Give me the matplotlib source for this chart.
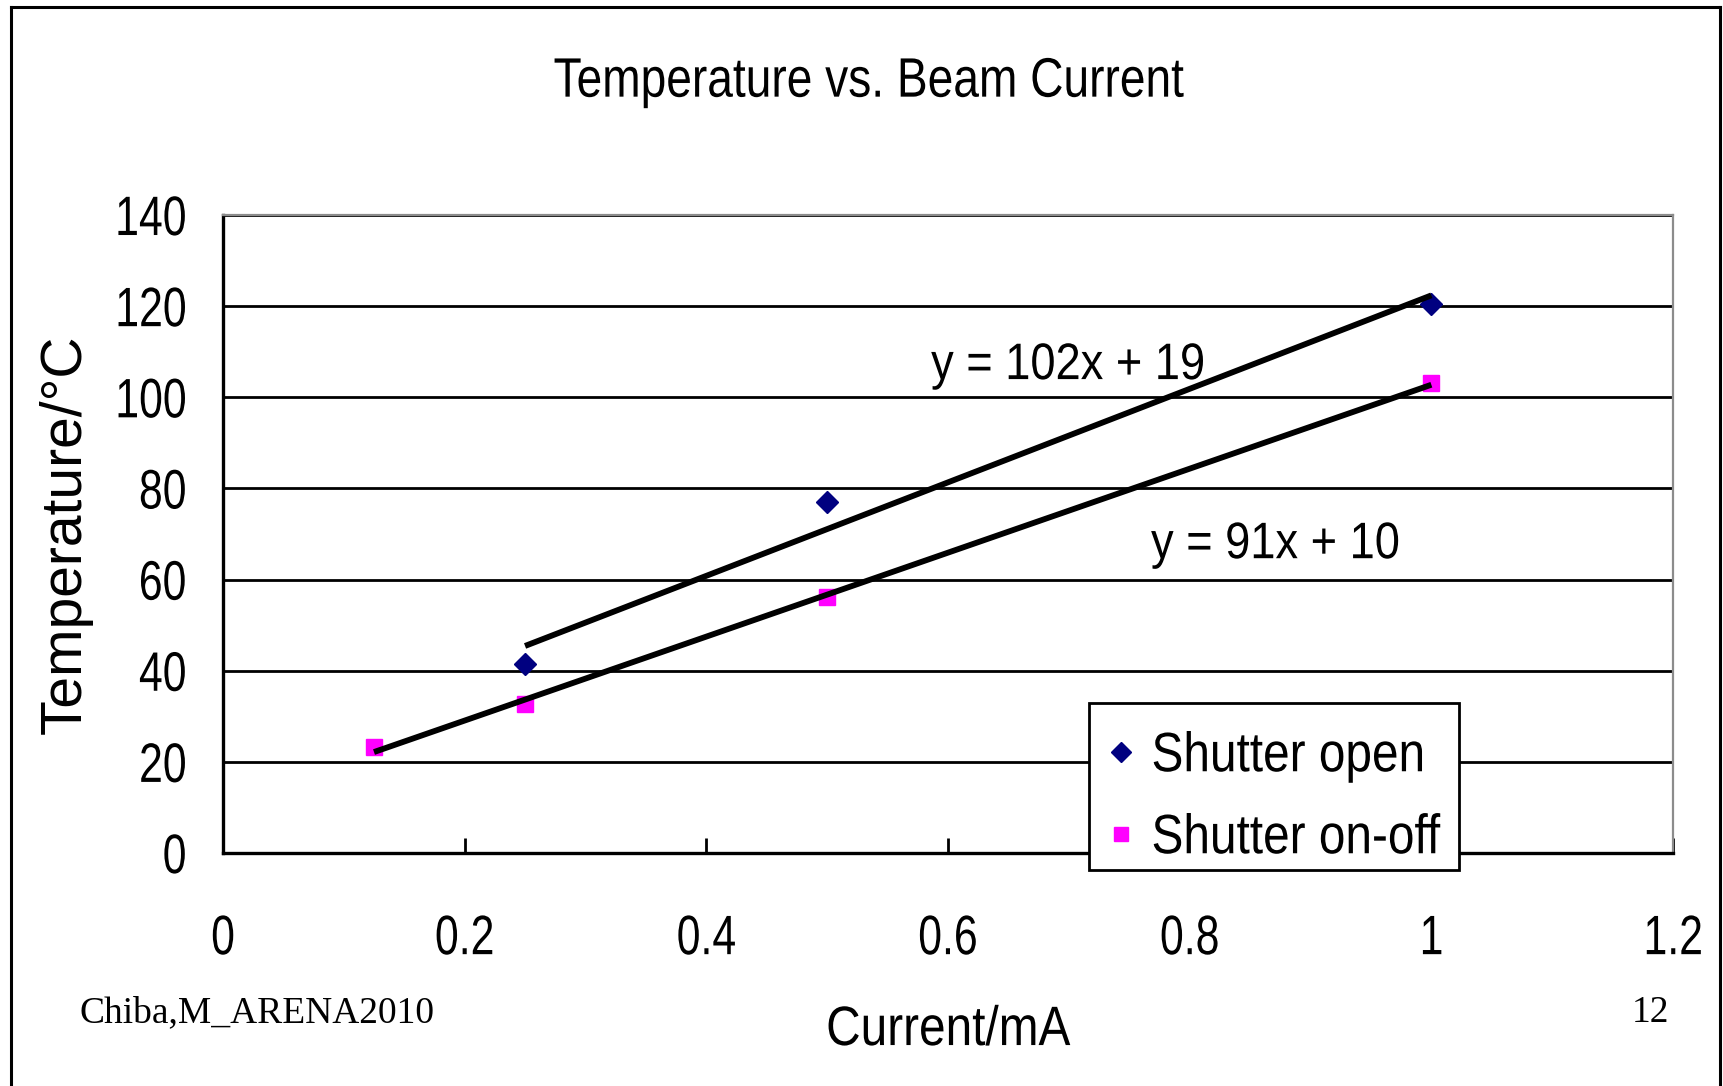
import numpy as np
import matplotlib
matplotlib.use("Agg")
import matplotlib.pyplot as plt
from matplotlib.lines import Line2D
from matplotlib.patches import Rectangle
from matplotlib.patheffects import AbstractPathEffect
from matplotlib.transforms import Affine2D
from matplotlib.ticker import FuncFormatter

# data
open_current = [0.25, 0.5, 1.0]
open_temp = [41.5, 77.0, 120.4]
onoff_current = [0.125, 0.25, 0.5, 1.0]
onoff_temp = [23.2, 32.8, 56.2, 103.1]

series_names = ["Shutter open", "Shutter on-off"]
eq_labels = ["y = 102x + 19", "y = 91x + 10"]
x_ticks = [0, 0.2, 0.4, 0.6, 0.8, 1.0, 1.2]
y_ticks = [0, 20, 40, 60, 80, 100, 120, 140]

FONT = "Liberation Sans"


class Squeeze(AbstractPathEffect):
    """Narrows text horizontally (the slide used a condensed Japanese gothic)."""

    def __init__(self, fx=0.82, anchor="center"):
        super().__init__()
        self.fx = fx
        self.anchor = anchor

    def draw_path(self, renderer, gc, tpath, affine, rgbFace=None):
        ext = tpath.transformed(affine).get_extents()
        if self.anchor == "left":
            x0 = ext.x0
        elif self.anchor == "right":
            x0 = ext.x1
        else:
            x0 = 0.5 * (ext.x0 + ext.x1)
        squeeze = Affine2D().translate(-x0, 0).scale(self.fx, 1).translate(x0, 0)
        renderer.draw_path(gc, tpath, affine + squeeze, rgbFace)


fig = plt.figure(figsize=(17.23, 10.86), dpi=100)
ax = fig.add_axes([0.1294, 0.2145, 0.8416, 0.5875])

# markers first, trend lines drawn on top of them
ax.plot(open_current, open_temp, linestyle="none", marker="D", markersize=11,
        color="#000080", zorder=3, label=series_names[0])
ax.plot(onoff_current, onoff_temp, linestyle="none", marker="s", markersize=11,
        color="#FF00FF", zorder=3, label=series_names[1])

# linear trend lines fitted from the points
for xs, ys in [(open_current, open_temp), (onoff_current, onoff_temp)]:
    k, b = np.polyfit(xs, ys, 1)
    xx = np.array([min(xs), max(xs)])
    ax.plot(xx, k * xx + b, color="black", lw=4.2, zorder=4, solid_capstyle="butt")

ax.text(0.586, 104.0, eq_labels[0], family=FONT, fontsize=37, va="baseline", zorder=5,
        path_effects=[Squeeze(0.88, "left")])
ax.text(0.768, 64.7, eq_labels[1], family=FONT, fontsize=37, va="baseline", zorder=5,
        path_effects=[Squeeze(0.88, "left")])

ax.set_xlim(0, 1.2)
ax.set_ylim(0, 140)
ax.set_xticks(x_ticks)
ax.set_yticks(y_ticks)
ax.xaxis.set_major_formatter(FuncFormatter(lambda v, p: "%g" % v))
ax.yaxis.grid(True, color="black", lw=2)
ax.set_axisbelow(True)

ax.tick_params(axis="x", direction="in", length=11, width=2, pad=44, labelsize=40)
ax.tick_params(axis="y", direction="in", length=0, pad=26, labelsize=40)
for lab in ax.get_xticklabels():
    lab.set_family(FONT)
    lab.set_path_effects([Squeeze(0.77, "center")])
for lab in ax.get_yticklabels():
    lab.set_family(FONT)
    lab.set_path_effects([Squeeze(0.77, "right")])

for side in ["left", "bottom"]:
    ax.spines[side].set_color("black")
    ax.spines[side].set_linewidth(2.4)
for side in ["top", "right"]:
    ax.spines[side].set_color("#8c8c8c")
    ax.spines[side].set_linewidth(1.6)

ax.set_xlabel("Current/mA", family=FONT, fontsize=40, labelpad=28,
              path_effects=[Squeeze(0.86, "center")])
ax.set_ylabel("Temperature/°C", family=FONT, fontsize=41)
ax.yaxis.set_label_coords(-0.09, 0.5)

# legend: text is squeezed, so the box is drawn by hand at the slide's size
leg = ax.legend(loc="upper left", bbox_to_anchor=(0.632, 0.342), bbox_transform=fig.transFigure,
                borderaxespad=0, frameon=False, handlelength=0.55, handletextpad=0.27,
                borderpad=0.3, labelspacing=0.54, prop={"family": FONT, "size": 40},
                markerscale=0.9)
for t in leg.get_texts():
    t.set_path_effects([Squeeze(0.86, "left")])
leg.set_zorder(10)
ax.add_patch(Rectangle((0.632, 0.199), 0.2147, 0.1538, transform=fig.transFigure,
                       facecolor="white", edgecolor="black", lw=2, zorder=9, clip_on=False))

fig.text(0.504, 0.911, "Temperature vs. Beam Current", family=FONT, fontsize=40,
         ha="center", va="baseline", path_effects=[Squeeze(0.83, "center")])
fig.text(0.046, 0.059, "Chiba,M_ARENA2010", family="Liberation Serif", fontsize=27, va="baseline")
fig.text(0.969, 0.059, "12", family="Liberation Serif", fontsize=27, ha="right", va="baseline")

# slide frame
for xs, ys in [([0.0064, 0.0064], [-0.01, 0.9936]),
               ([0.0064, 0.9983], [0.9936, 0.9936]),
               ([0.9983, 0.9983], [0.9936, -0.01])]:
    fig.add_artist(Line2D(xs, ys, color="black", lw=2.2, transform=fig.transFigure))

fig.savefig("out.png", dpi=100)
